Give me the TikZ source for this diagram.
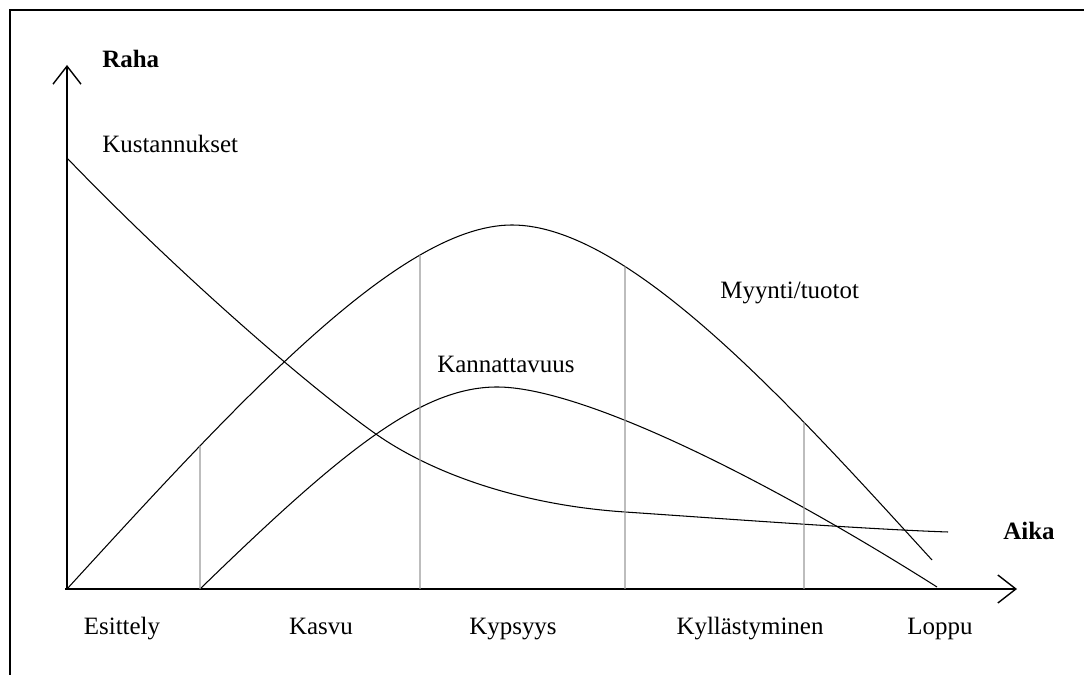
\documentclass[tikz,border=0pt]{standalone}
\usepackage{fontspec}
\setmainfont{Liberation Serif}
\usepackage{tikz}
\usetikzlibrary{arrows.meta,intersections}

\begin{document}
\begin{tikzpicture}[x=0.02cm,y=0.02cm,
    lbl/.style={font=\fontsize{14.2}{17}\selectfont, inner sep=0pt},
    axis/.style={line width=0.8pt,-{Straight Barb[length=0.36cm,width=0.56cm]}},
    phase/.style={gray!80,line width=0.7pt},
    curve/.style={line width=0.6pt}]
    \useasboundingbox (0,0) rectangle (1084,675);
    \draw [line width=1.1pt] (10,0)--(10,665)--(1084,665);

    \coordinate (O) at (67,86);
    \coordinate (ytop) at (67,610);
    \coordinate (xend) at (1017,86);
    \draw [axis] (O)--(ytop);
    \draw [axis] (65,86)--(xend);

    % myynti
    \draw [curve,name path=myynti] (67,86) .. controls (240,275) and (400,450) .. (512,450)
        .. controls (630,450) and (795,265) .. (932,115);
    % kannattavuus
    \draw [curve] (200,86) .. controls (340,222) and (420,288) .. (497,288)
        .. controls (580,288) and (760,200) .. (937,88);
    % kustannukset
    \draw [curve] (67,517) .. controls (170,410) and (300,295) .. (373,243)
        .. controls (430,202) and (520,170) .. (625,163)
        .. controls (700,158) and (860,146) .. (948,143);

    % vaiheiden rajat
    \foreach \x in {200,420,625,804} {
        \path [name path=raja] (\x,80)--(\x,600);
        \draw [phase,name intersections={of=raja and myynti,by=yla}] (\x,86)--(yla);
    }

    \node[lbl,anchor=base west] (raha) at (102,607) {\textbf{Raha}};
    \node[lbl,anchor=base west] (aika) at (1003,135) {\textbf{Aika}};
    \node[lbl,anchor=base west] (kust) at (102,522) {Kustannukset};
    \node[lbl,anchor=base west] (myynti) at (720,376) {Myynti/tuotot};
    \node[lbl,anchor=base west] (kann) at (437,302) {Kannattavuus};

    \node[lbl,anchor=base] (esittely) at (122,40) {Esittely};
    \node[lbl,anchor=base] (kasvu) at (321,40) {Kasvu};
    \node[lbl,anchor=base] (kypsyys) at (513,40) {Kypsyys};
    \node[lbl,anchor=base] (kyll) at (750,40) {Kyllästyminen};
    \node[lbl,anchor=base] (loppu) at (940,40) {Loppu};
\end{tikzpicture}
\end{document}
